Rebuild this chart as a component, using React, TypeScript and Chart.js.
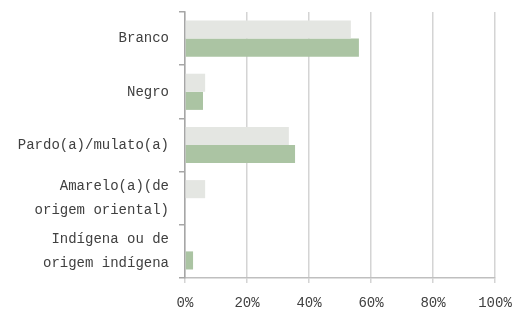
import React, { useEffect, useRef } from "react";
import { Chart, registerables } from "chart.js";

Chart.register(...registerables);

const categories: (string | string[])[] = [
  "Branco",
  "Negro",
  "Pardo(a)/mulato(a)",
  ["Amarelo(a)(de", "origem oriental)"],
  ["Indígena ou de", "origem indígena"],
];
const seriesGray = [53.5, 6.5, 33.5, 6.5, 0];
const seriesGreen = [56.1, 5.8, 35.5, 0, 2.6];
const xTicks = [0, 20, 40, 60, 80, 100];

const FONT = "'Liberation Mono', 'DejaVu Sans Mono', monospace";

export default function App() {
  const ref = useRef<HTMLCanvasElement | null>(null);
  useEffect(() => {
    document.body.style.margin = "0";
    if (!ref.current) return;
    const chart = new Chart(ref.current, {
      type: "bar",
      data: {
        labels: categories,
        datasets: [
          {
            label: "A",
            data: seriesGray,
            backgroundColor: "#e4e6e2",
            categoryPercentage: 0.68,
            barPercentage: 1,
          },
          {
            label: "B",
            data: seriesGreen,
            backgroundColor: "#abc4a3",
            categoryPercentage: 0.68,
            barPercentage: 1,
          },
        ],
      },
      options: {
        indexAxis: "y",
        animation: false,
        responsive: true,
        maintainAspectRatio: false,
        layout: { padding: { top: 12, right: 17, left: 0, bottom: 0 } },
        plugins: { legend: { display: false }, tooltip: { enabled: false } },
        scales: {
          x: {
            min: 0,
            max: 100,
            afterBuildTicks: (axis: any) => {
              axis.ticks = xTicks.map((v) => ({ value: v }));
            },
            afterFit: (axis: any) => {
              axis.height = 32;
              axis.paddingLeft = 0;
              axis.paddingRight = 0;
            },
            grid: {
              color: "#d4d4d4",
              lineWidth: 1.5,
              tickLength: 5,
            },
            border: { color: "#bfbfbf", width: 1.5 },
            ticks: {
              color: "#404040",
              padding: 12,
              maxRotation: 0,
              font: { family: FONT, size: 14 },
              callback: (v: any) => v + "%",
            },
          },
          y: {
            afterFit: (axis: any) => {
              axis.width = 185;
              axis.paddingTop = 0;
              axis.paddingBottom = 0;
            },
            grid: {
              drawOnChartArea: false,
              color: "#a6a6a6",
              lineWidth: 1.5,
              tickLength: 6,
              offset: true,
            },
            border: { color: "#a6a6a6", width: 1.5 },
            ticks: {
              autoSkip: false,
              color: "#404040",
              padding: 10,
              font: { family: FONT, size: 14, lineHeight: 1.7 },
            },
          },
        },
      },
    });
    return () => chart.destroy();
  }, []);
  return (
    <div style={{ width: 512, height: 310, position: "relative" }}>
      <canvas ref={ref} />
    </div>
  );
}
